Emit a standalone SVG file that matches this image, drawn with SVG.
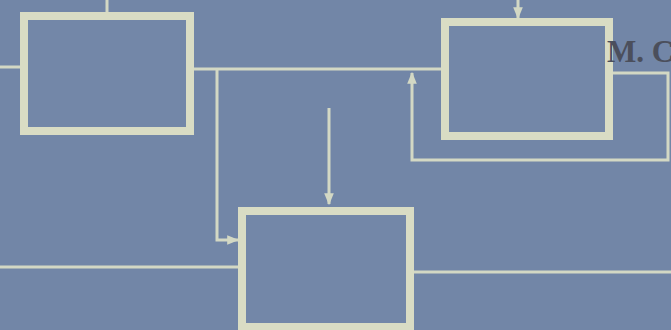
<svg xmlns="http://www.w3.org/2000/svg" width="671" height="330" viewBox="0 0 671 330">
<defs>
<style>
.box{fill:#7387a8;stroke:#d9dcc4;stroke-width:8}
.ln{fill:none;stroke:#d3d8c4;stroke-width:3}
.t{font-family:"Liberation Serif",serif;font-weight:bold;font-size:31px;fill:#4b4f5c}
</style>
<marker id="ah" viewBox="0 0 10 10" refX="9" refY="5" markerWidth="4" markerHeight="4" orient="auto" markerUnits="strokeWidth">
<path d="M0,1 L10,5 L0,9 Z" fill="#d3d8c4"/>
</marker>
</defs>
<rect width="671" height="330" fill="#7286a7"/>
<g id="connectors">
<path class="ln" d="M107,0 V12"/>
<path class="ln" d="M0,67 H20"/>
<path class="ln" d="M194,69 H441"/>
<path class="ln" d="M217,69 V240 H238" marker-end="url(#ah)"/>
<path class="ln" d="M329,108 V204" marker-end="url(#ah)"/>
<path class="ln" d="M518,0 V18" marker-end="url(#ah)"/>
<path class="ln" d="M613,73 H668 V160 H412 V73" marker-end="url(#ah)"/>
<path class="ln" d="M0,267 H238"/>
<path class="ln" d="M414,272 H671"/>
</g>
<g id="node1"><rect class="box" x="24" y="16" width="166" height="115"/></g>
<g id="node2"><rect class="box" x="242" y="211" width="168" height="116"/></g>
<g id="node3"><rect class="box" x="445" y="22" width="164" height="114"/></g>
<text class="t" x="607" y="62">M. C</text>
</svg>
